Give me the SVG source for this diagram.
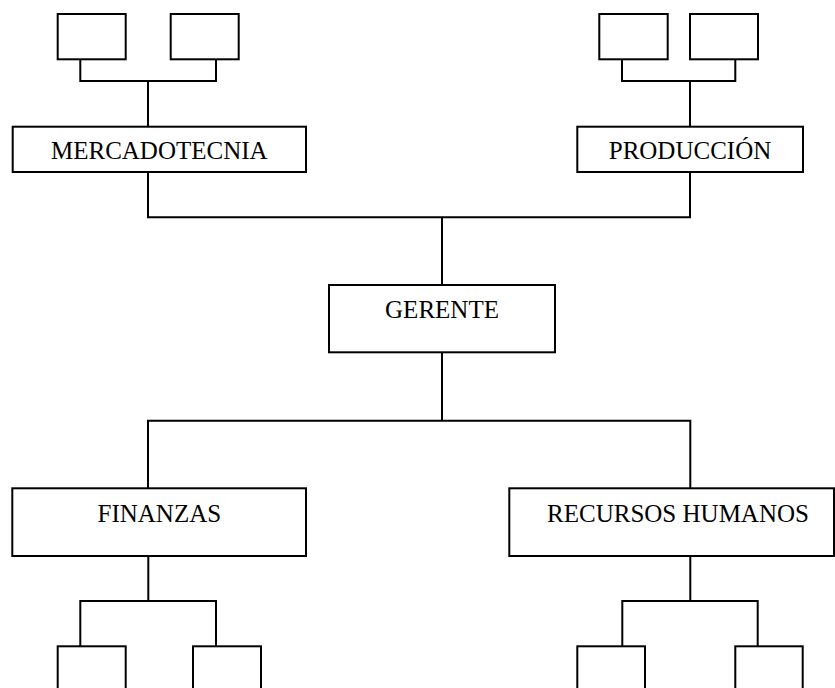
<svg xmlns="http://www.w3.org/2000/svg" width="835" height="688" viewBox="0 0 835 688">
<style>
.box{fill:#fff;stroke:#000;stroke-width:2}
.con{fill:none;stroke:#000;stroke-width:2}
.lbl{font-family:"Liberation Serif","Times New Roman",serif;font-size:25px;fill:#000;text-anchor:middle}
</style>
<rect width="835" height="688" fill="#fff"/>
<g id="connectors">
<path class="con" d="M80.3,59.3 V81 H216 V59.3 M148,81 V126.7"/>
<path class="con" d="M622,59.3 V81 H735.3 V59.3 M690,81 V126.7"/>
<path class="con" d="M148,172 V217.3 H690 V172 M442,217.3 V285"/>
<path class="con" d="M442,352.3 V420.7 M148,488.3 V420.7 H690.3 V488.3"/>
<path class="con" d="M148.3,556 V601 M80.3,646.3 V601 H216 V646.3"/>
<path class="con" d="M690.3,556 V601 M622.3,646.3 V601 H757.7 V646.3"/>
</g>
<g id="m1"><rect class="box" x="57.7" y="14" width="68" height="45.3"/></g>
<g id="m2"><rect class="box" x="170.7" y="14" width="68" height="45.3"/></g>
<g id="p1"><rect class="box" x="599.3" y="14" width="68.4" height="45.3"/></g>
<g id="p2"><rect class="box" x="690" y="14" width="68" height="45.3"/></g>
<g id="mercadotecnia"><rect class="box" x="12.7" y="126.7" width="293.3" height="45.3"/><text class="lbl" x="159.3" y="159.3">MERCADOTECNIA</text></g>
<g id="produccion"><rect class="box" x="577.3" y="126.7" width="225.7" height="45.3"/><text class="lbl" x="690" y="159.3">PRODUCCIÓN</text></g>
<g id="gerente"><rect class="box" x="329" y="285" width="226" height="67.3"/><text class="lbl" x="442" y="317.7">GERENTE</text></g>
<g id="finanzas"><rect class="box" x="12.3" y="488.3" width="293.7" height="67.7"/><text class="lbl" x="159.3" y="521.7">FINANZAS</text></g>
<g id="rrhh"><rect class="box" x="509.3" y="488.3" width="324.7" height="67.7"/><text class="lbl" x="678" y="521.7">RECURSOS HUMANOS</text></g>
<g id="f1"><rect class="box" x="57.7" y="646.3" width="68" height="60"/></g>
<g id="f2"><rect class="box" x="193" y="646.3" width="68" height="60"/></g>
<g id="r1"><rect class="box" x="577.3" y="646.3" width="67.7" height="60"/></g>
<g id="r2"><rect class="box" x="735.3" y="646.3" width="67.4" height="60"/></g>
</svg>
